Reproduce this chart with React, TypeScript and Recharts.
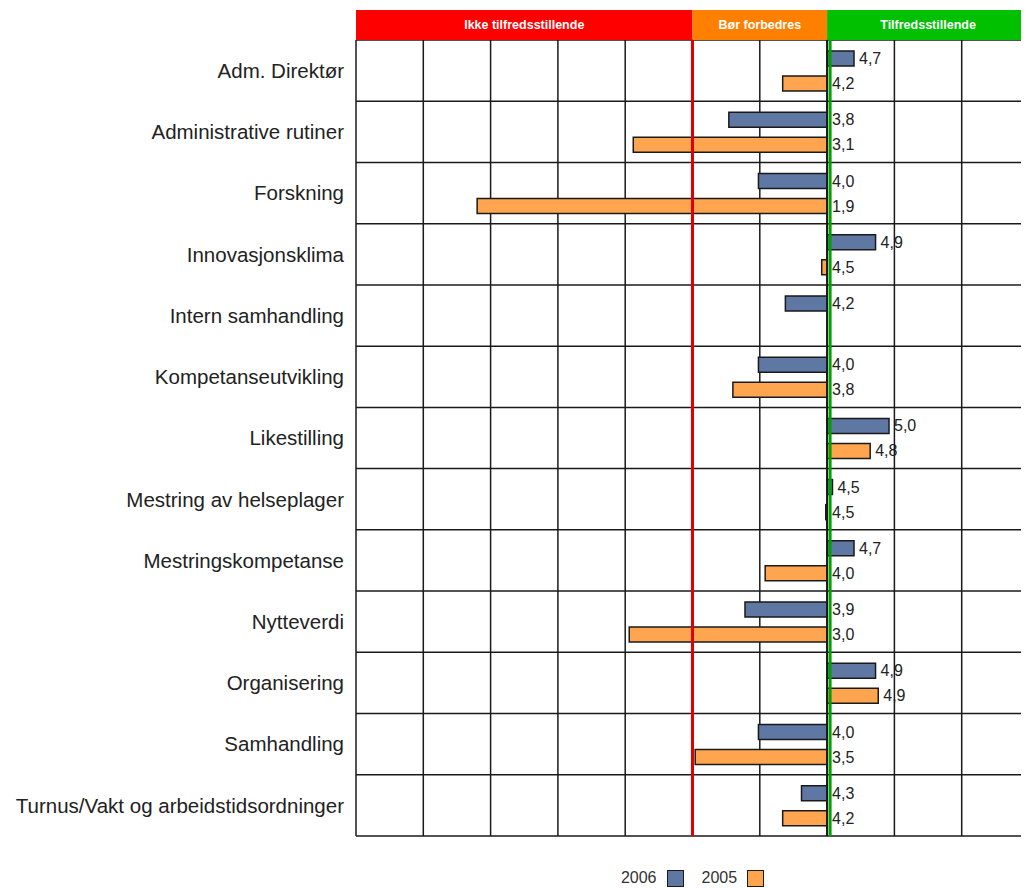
import {
  BarChart,
  Bar,
  XAxis,
  YAxis,
  CartesianGrid,
  ReferenceArea,
  ReferenceLine,
  LabelList,
  Legend,
} from "recharts";

const categories = [
  "Adm. Direktør",
  "Administrative rutiner",
  "Forskning",
  "Innovasjonsklima",
  "Intern samhandling",
  "Kompetanseutvikling",
  "Likestilling",
  "Mestring av helseplager",
  "Mestringskompetanse",
  "Nytteverdi",
  "Organisering",
  "Samhandling",
  "Turnus/Vakt og arbeidstidsordninger",
];
const values2006 = [4.7, 3.77, 3.99, 4.86, 4.19, 3.99, 4.96, 4.54, 4.7, 3.89, 4.86, 3.99, 4.31];
const values2005: (number | null)[] = [4.17, 3.06, 1.9, 4.46, null, 3.8, 4.82, 4.49, 4.04, 3.03, 4.88, 3.52, 4.17];
const seriesNames = ["2006", "2005"];

const xTicks = [1, 1.5, 2, 2.5, 3, 3.5, 4, 4.5, 5, 5.5, 6];
const zoneLabels = ["Ikke tilfredsstillende", "Bør forbedres", "Tilfredsstillende"];
const zoneBounds = [1, 3.5, 4.5, 6];
const baseline = 4.5;

const FONT = '"Liberation Sans", Arial, sans-serif';
const BLUE = "#5f77a3";
const ORANGE = "#ffa54f";
const INK = "#1a1a1a";
const ZONE_COLORS = ["#ff0000", "#ff8000", "#00c000"];
const SERIES_COLORS = [BLUE, ORANGE];

const span = (v: number | null) =>
  v == null ? null : [Math.min(baseline, v), Math.max(baseline, v)];

const data = categories.map((name, i) => ({
  name,
  v2006: values2006[i],
  v2005: values2005[i],
  r2006: span(values2006[i]),
  r2005: span(values2005[i]),
}));

const fmt = (v: number) => v.toFixed(1).replace(".", ",");

function ValueLabel(props: any) {
  const vb = props.viewBox ?? props;
  const { value } = props;
  if (value == null) return null;
  const x = (vb.x ?? props.x) + (vb.width ?? props.width);
  const y = (vb.y ?? props.y) + (vb.height ?? props.height) / 2;
  return (
    <text x={x + 5} y={y} dy="0.35em" fontSize={16} fill="#222" fontFamily={FONT}>
      {fmt(value)}
    </text>
  );
}

function ZoneHeader(props: any) {
  const { x, y, width, title, color } = props;
  return (
    <g>
      <rect x={x} y={y - 30} width={width} height={30} fill={color} />
      <text
        x={x + width / 2}
        y={y - 15}
        dy="0.35em"
        textAnchor="middle"
        fill="#fff"
        fontWeight="bold"
        fontSize={12.5}
        fontFamily={FONT}
      >
        {title}
      </text>
    </g>
  );
}

function GreenLine(props: any) {
  const { x1, y1, y2 } = props;
  return (
    <g>
      <line x1={x1} x2={x1} y1={y1} y2={y2} stroke={INK} strokeWidth={2} />
      <line x1={x1 + 3} x2={x1 + 3} y1={y1} y2={y2} stroke="#00a000" strokeWidth={3} />
    </g>
  );
}

function LegendContent() {
  return (
    <div
      style={{
        display: "flex",
        justifyContent: "center",
        alignItems: "center",
        height: 20,
        fontFamily: FONT,
        fontSize: 16,
        color: "#333",
      }}
    >
      {seriesNames.map((name, i) => (
        <div key={name} style={{ display: "flex", alignItems: "center", marginLeft: i ? 18 : 0 }}>
          <span>{name}</span>
          <span
            style={{
              display: "inline-block",
              width: 15,
              height: 15,
              marginLeft: 10,
              background: SERIES_COLORS[i],
              border: `1.5px solid ${INK}`,
            }}
          />
        </div>
      ))}
    </div>
  );
}

export default function App() {
  return (
    <div style={{ fontFamily: FONT }}>
      <BarChart
        layout="vertical"
        width={1021}
        height={880}
        data={data}
        margin={{ top: 32, right: 0, bottom: 32, left: 0 }}
        barGap={10}
        barSize={15}
      >
        <CartesianGrid
          stroke={INK}
          strokeWidth={1.5}
          horizontalCoordinatesGenerator={(p: any) => {
            const { top, height } = p.offset;
            return categories.map((_, i) => top + (height * i) / categories.length).concat(top + height);
          }}
          verticalCoordinatesGenerator={(p: any) => {
            const { left, width } = p.offset;
            const [d0, d1] = [xTicks[0], xTicks[xTicks.length - 1]];
            return xTicks.map((t) => left + ((t - d0) / (d1 - d0)) * width);
          }}
        />
        <XAxis
          type="number"
          domain={[1, 6]}
          ticks={xTicks}
          tick={false}
          axisLine={false}
          tickLine={false}
          height={0}
        />
        <YAxis
          type="category"
          dataKey="name"
          width={348}
          interval={0}
          axisLine={false}
          tickLine={false}
          tickSize={0}
          tickMargin={12}
          tick={{ fontSize: 20.5, fill: "#222", fontFamily: FONT }}
        />
        {zoneLabels.map((title, i) => (
          <ReferenceArea
            key={title}
            x1={zoneBounds[i]}
            x2={zoneBounds[i + 1]}
            fillOpacity={1}
            shape={(p: any) => <ZoneHeader {...p} title={title} color={ZONE_COLORS[i]} />}
          />
        ))}
        <Bar dataKey="r2006" name="2006" fill={BLUE} stroke={INK} strokeWidth={1.5} isAnimationActive={false}>
          <LabelList dataKey="v2006" content={ValueLabel} />
        </Bar>
        <Bar dataKey="r2005" name="2005" fill={ORANGE} stroke={INK} strokeWidth={1.5} isAnimationActive={false}>
          <LabelList dataKey="v2005" content={ValueLabel} />
        </Bar>
        <ReferenceLine x={3.5} stroke="#e00000" strokeWidth={3} />
        <ReferenceLine x={baseline} shape={GreenLine} />
        <Legend
          verticalAlign="bottom"
          content={LegendContent}
          wrapperStyle={{ left: 348, width: 673, bottom: 0, height: 20 }}
        />
      </BarChart>
    </div>
  );
}
